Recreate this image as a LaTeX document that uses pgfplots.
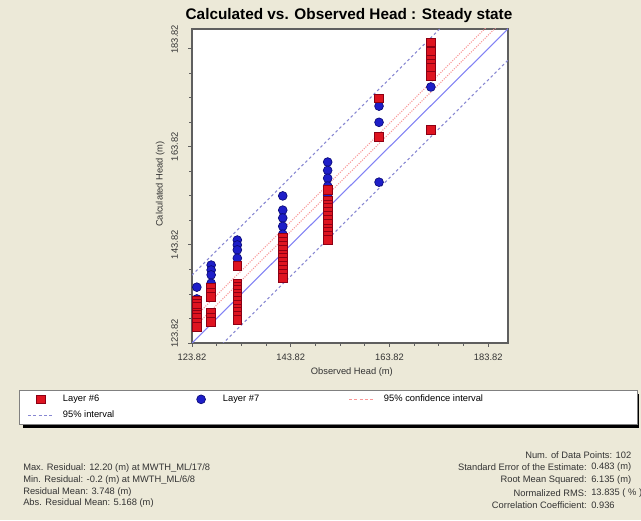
\documentclass[border=0pt]{standalone}
\usepackage{pgfplots}
\pgfplotsset{compat=1.18}
\usepackage{fontspec}
\setmainfont{Liberation Sans}
\definecolor{bgc}{RGB}{236,233,216}
\definecolor{redm}{RGB}{222,20,32}
\definecolor{redd}{RGB}{140,0,20}
\definecolor{bluem}{RGB}{30,30,200}
\definecolor{blued}{RGB}{10,10,120}
\definecolor{solidc}{RGB}{130,130,245}
\definecolor{dashc}{RGB}{135,135,210}
\definecolor{pinkc}{RGB}{250,150,150}
\definecolor{framec}{RGB}{95,95,95}
\definecolor{legc}{RGB}{128,128,128}
\newcommand{\sm}{\fontsize{7}{8}\selectfont}
\begin{document}
\begin{tikzpicture}
\fill[bgc] (0,0) rectangle (480.75pt,390pt);
\clip (0,0) rectangle (480.75pt,390pt);
% legend shadow
\fill[black] (17.25pt,69pt) rectangle (479.25pt,94.5pt);
\begin{axis}[
  at={(144pt,132.75pt)}, anchor=south west,
  scale only axis, width=237pt, height=235.5pt,
  xmin=123.82, xmax=187.82, ymin=123.82, ymax=187.82,
  axis background/.style={fill=white},
  axis line style={draw=framec, line width=0.9pt},
  xtick={123.82,143.82,163.82,183.82},
  xticklabels={123.82,143.82,163.82,183.82},
  ytick={143.82,163.82},
  yticklabels={143.82,163.82},
  extra y ticks={123.82,183.82},
  extra y tick labels={123.82,183.82},
  extra y tick style={major tick length=3pt, tick style={draw=framec, line width=0.6pt},
     yticklabel style={xshift=7pt}},
  minor xtick={128.82,133.82,138.82,148.82,153.82,158.82,168.82,173.82,178.82},
  minor ytick={128.82,133.82,138.82,148.82,153.82,158.82,168.82,173.82,178.82},
  tick align=outside, xtick pos=bottom, ytick pos=left,
  major tick length=3pt, minor tick length=2.2pt,
  tick style={draw=framec, line width=0.6pt},
  ticklabel style={font=\sm, text=black!80},
  /pgf/number format/assume math mode=true,
  xticklabel style={anchor=center, yshift=-8pt},
  yticklabel style={rotate=90, anchor=center, yshift=10pt},
  xlabel={Observed Head (m)}, ylabel={Calculated Head (m)},
  label style={font=\sm, text=black!80},
  xlabel style={at={(axis description cs:0.506,-0.0924)}, anchor=center},
  ylabel style={at={(axis description cs:-0.101,0.506)}, anchor=center, rotate=0},
  legend columns=3,
  legend cell align=left,
  legend image code/.code={\path[draw=none,fill=none] (0pt,-6pt) rectangle (18.75pt,6pt);
     \draw[mark repeat=2,mark phase=2,#1] plot coordinates {(0pt,0pt)(9.375pt,0pt)(18.75pt,0pt)};},
  legend style={at={(-0.5475,-0.1497)}, anchor=north west, draw=legc, fill=white,
     inner xsep=6.4pt, inner ysep=1pt, outer sep=0pt, line width=0.6pt,
     nodes={inner sep=0pt}, column sep=0pt, row sep=0pt, font=\sm},
]
% 95% interval (dashed)
\addplot[forget plot, dashc, dash pattern=on 2pt off 2pt, line width=0.8pt] coordinates {(110,123.85) (200,213.85)};
\addplot[forget plot, dashc, dash pattern=on 2pt off 2pt, line width=0.8pt] coordinates {(110,103.65) (200,193.65)};
% 95% confidence interval (dotted)
\addplot[forget plot, pinkc, densely dotted, line width=0.8pt] coordinates {(110,112.75) (200,202.75)};
\addplot[forget plot, pinkc, densely dotted, line width=0.8pt] coordinates {(110,114.75) (200,204.75)};
% 1:1 line
\addplot[forget plot, solidc, line width=0.8pt] coordinates {(110,110) (200,200)};
% Layer #7
\addplot[forget plot, only marks, mark=*, mark size=3.3pt, mark options={fill=bluem, draw=blued, line width=0.5pt}] coordinates {
(124.8,135.2) (124.8,132.8)
(127.7,139.7) (127.7,138.7) (127.7,137.7) (127.7,136.0)
(133.0,144.8) (133.0,143.8) (133.0,142.8) (133.0,141.1)
(142.2,153.8) (142.2,150.9) (142.2,149.3) (142.2,147.6) (142.2,146.0)
(151.3,160.7) (151.3,159.0) (151.3,157.4) (151.3,155.8) (151.3,154.0)
(161.7,172.1) (161.7,168.8) (161.7,156.6)
(172.2,182.7) (172.2,176.0)
};
% Layer #6
\addplot[forget plot, only marks, mark=square*, mark size=3.3pt, mark options={fill=redm, draw=redd, line width=0.5pt}] coordinates {
(124.8,132.4) (124.8,131.8) (124.8,131.2) (124.8,130.0) (124.8,129.5) (124.8,128.9) (124.8,127.9) (124.8,127.1)
(127.7,135.0) (127.7,134.0) (127.7,133.2) (127.7,129.9) (127.7,128.9) (127.7,128.1)
(133.0,139.5) (133.0,136.0) (133.0,135.2) (133.0,134.6) (133.0,133.9) (133.0,133.2) (133.0,132.4) (133.0,131.6) (133.0,130.8) (133.0,130.1) (133.0,129.3) (133.0,128.5)
(142.2,145.2) (142.2,144.4) (142.2,143.6) (142.2,142.8) (142.2,141.9) (142.2,141.1) (142.2,140.3) (142.2,139.5) (142.2,138.7) (142.2,137.9) (142.2,137.1)
(151.3,155.0) (151.3,152.9) (151.3,152.1) (151.3,151.3) (151.3,150.5) (151.3,149.7) (151.3,148.9) (151.3,148.1) (151.3,147.2) (151.3,146.4) (151.3,145.6) (151.3,144.8)
(161.7,173.7) (161.7,165.8)
(172.2,185.1) (172.2,183.1) (172.2,181.5) (172.2,180.8) (172.2,180.0) (172.2,178.2) (172.2,167.2)
};
\addlegendimage{only marks, mark=square*, mark size=3.3pt, mark options={fill=redm, draw=redd, line width=0.5pt}}
\addlegendentry{\makebox[101.25pt][l]{\hspace{7pt}Layer \#6}}
\addlegendimage{only marks, mark=*, mark size=3.3pt, mark options={fill=bluem, draw=blued, line width=0.5pt}}
\addlegendentry{\makebox[101.25pt][l]{\hspace{7pt}Layer \#7}}
\addlegendimage{pinkc, dash pattern=on 2pt off 2pt, line width=0.8pt}
\addlegendentry{\makebox[190.9pt][l]{\hspace{7pt}95\% confidence interval}}
\addlegendimage{dashc, dash pattern=on 2pt off 2pt, line width=0.8pt}
\addlegendentry{\makebox[101.25pt][l]{\hspace{7pt}95\% interval}}
\end{axis}
\node[font=\fontsize{11.5}{13}\selectfont\bfseries] at (261.75pt,378pt) {Calculated vs. Observed Head : Steady state};
\begin{scope}[every node/.style={font=\sm, text=black!80, inner sep=0pt}]
\node[anchor=west] at (17.25pt,39pt) {Max. Residual: 12.20 (m) at MWTH\_ML/17/8};
\node[anchor=west] at (17.25pt,30pt) {Min. Residual: -0.2 (m) at MWTH\_ML/6/8};
\node[anchor=west] at (17.25pt,21pt) {Residual Mean: 3.748 (m)};
\node[anchor=west] at (17.25pt,12.75pt) {Abs. Residual Mean: 5.168 (m)};
\node[anchor=west] at (393.75pt,48.75pt) {Num. of Data Points: 102};
\node[anchor=east] at (440.25pt,39.5pt) {Standard Error of the Estimate:};
\node[anchor=west] at (443.25pt,39.5pt) {0.483 (m)};
\node[anchor=east] at (440.25pt,30pt) {Root Mean Squared:};
\node[anchor=west] at (443.25pt,30pt) {6.135 (m)};
\node[anchor=east] at (440.25pt,20.5pt) {Normalized RMS:};
\node[anchor=west] at (443.25pt,20.5pt) {13.835 ( \% )};
\node[anchor=east] at (440.25pt,11.25pt) {Correlation Coefficient:};
\node[anchor=west] at (443.25pt,11.25pt) {0.936};
\end{scope}
\end{tikzpicture}
\end{document}
